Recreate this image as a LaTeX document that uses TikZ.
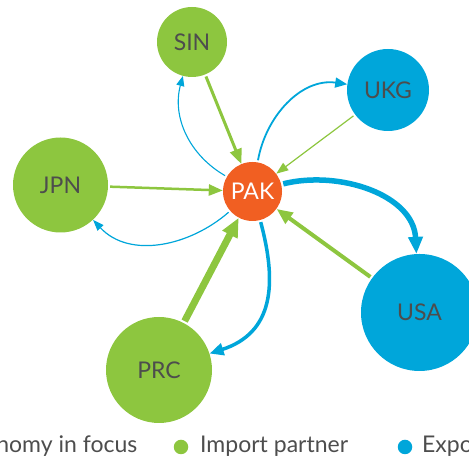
\documentclass[tikz,border=0pt]{standalone}
\usepackage{fontspec}
\setmainfont{Lato}
\usetikzlibrary{arrows.meta}
\definecolor{focusorange}{HTML}{F15F22}
\definecolor{impgreen}{HTML}{8DC63F}
\definecolor{expblue}{HTML}{00A6DA}
\definecolor{labelgray}{HTML}{4D4D4D}
\tikzset{
    economy/.style={circle, inner sep=0pt, minimum size=#1, text=labelgray,
        font=\fontsize{23}{27}\selectfont},
    importer/.style={economy=#1, fill=impgreen},
    exporter/.style={economy=#1, fill=expblue},
    flow/.style n args={3}{line width=#1, shorten <=2pt,
        -{Triangle[length=#2, width=#3]}},
    inflow/.style n args={3}{draw=impgreen, flow={#1}{#2}{#3}},
    outflow/.style n args={3}{draw=expblue, flow={#1}{#2}{#3}},
    legend/.style={anchor=base west, inner sep=0pt, text=labelgray,
        font=\fontsize{23}{27}\selectfont},
    dot/.style={circle, inner sep=0pt, minimum size=14.5pt},
}

\begin{document}
\begin{tikzpicture}[x=1pt, y=1pt]
    \useasboundingbox (0,0) rectangle (469,462);
    \clip (0,0) rectangle (469,462);

    \node[economy=59, fill=focusorange, text=white] (PAK) at (252.5,270.5) {PAK};
    \node[importer=70]  (SIN) at (192,420)    {SIN};
    \node[exporter=82]  (UKG) at (388,372)    {UKG};
    \node[importer=95]  (JPN) at (60.5,277)   {JPN};
    \node[importer=106] (PRC) at (159,92)     {PRC};
    \node[exporter=117] (USA) at (419.5,149.5) {USA};

    \draw[inflow={3}{15pt}{12pt}]    (SIN) -- (PAK);
    \draw[outflow={1.1}{10pt}{8pt}]  (PAK) to[out=150, in=255] (SIN);
    \draw[outflow={1.8}{12pt}{10pt}] (PAK) to[out=80, in=172] (UKG);
    \draw[inflow={1.2}{12pt}{9pt}]   (UKG) -- (PAK);
    \draw[inflow={2.5}{14pt}{11pt}]  (JPN) -- (PAK);
    \draw[outflow={1.2}{11pt}{8pt}]  (PAK) to[out=221, in=313] (JPN);
    \draw[outflow={5.5}{17pt}{14pt}] (PAK) to[out=14, in=93] (USA);
    \draw[inflow={4}{16pt}{13pt}]    (USA) -- (PAK);
    \draw[inflow={7}{19pt}{16pt}]    (PRC) -- (PAK);
    \draw[outflow={3.5}{14pt}{12pt}] (PAK) to[out=285, in=18, looseness=1.2] (PRC);

    % legend
    \node[legend, anchor=base east] (focuslbl) at (137.5,9) {Economy in focus};
    \node[dot, fill=impgreen] (impdot) at (181,15) {};
    \node[legend] (implbl) at (200,9) {Import partner};
    \node[dot, fill=expblue] (expdot) at (405,15) {};
    \node[legend] (explbl) at (422,9) {Export partner};
\end{tikzpicture}
\end{document}
